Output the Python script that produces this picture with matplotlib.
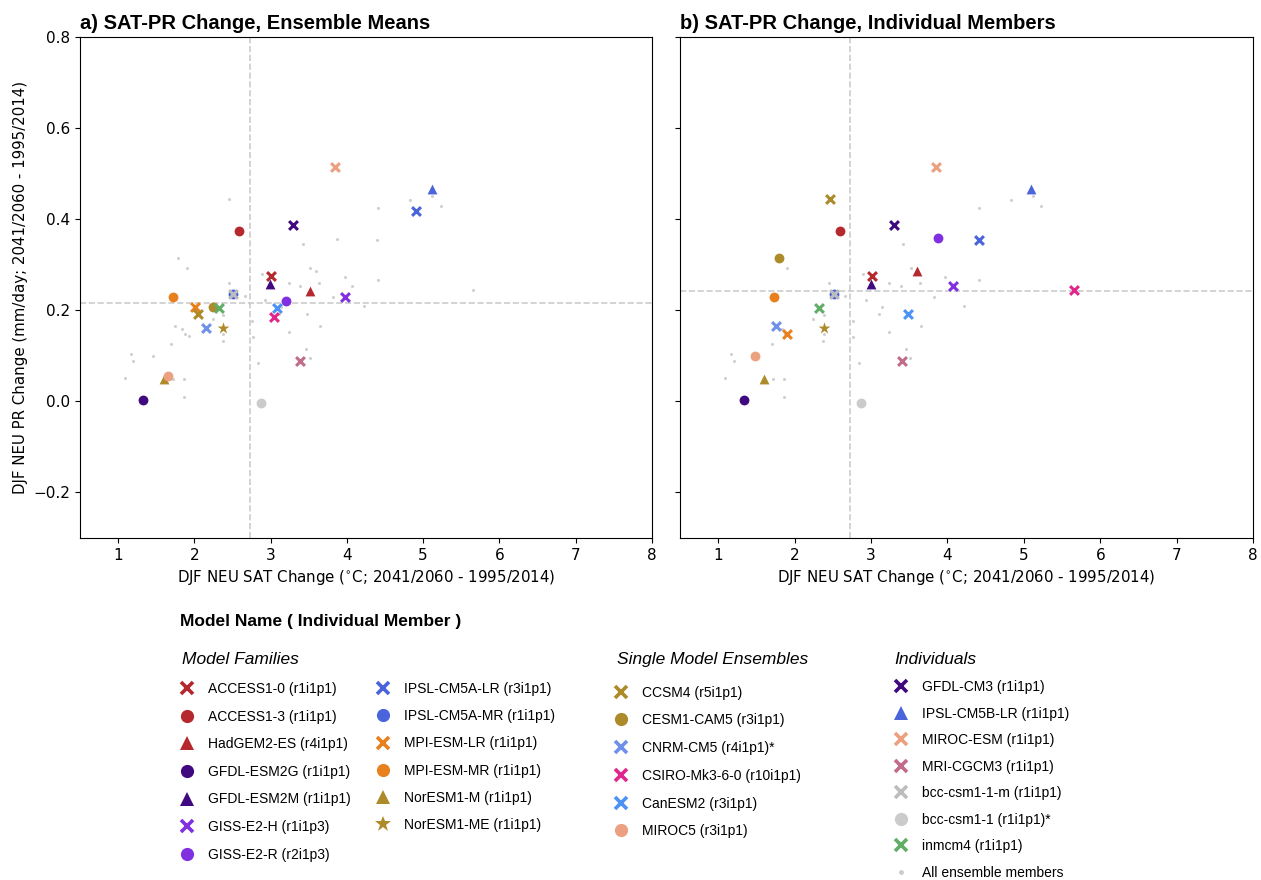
import matplotlib
matplotlib.use("Agg")
import matplotlib.pyplot as plt
from matplotlib.lines import Line2D

# model names and members, in legend order
models = ["ACCESS1-0", "ACCESS1-3", "HadGEM2-ES", "GFDL-ESM2G", "GFDL-ESM2M",
          "GISS-E2-H", "GISS-E2-R", "IPSL-CM5A-LR", "IPSL-CM5A-MR", "MPI-ESM-LR",
          "MPI-ESM-MR", "NorESM1-M", "NorESM1-ME", "CCSM4", "CESM1-CAM5",
          "CNRM-CM5", "CSIRO-Mk3-6-0", "CanESM2", "MIROC5", "GFDL-CM3",
          "IPSL-CM5B-LR", "MIROC-ESM", "MRI-CGCM3", "bcc-csm1-1-m", "bcc-csm1-1",
          "inmcm4"]
members = ["r1i1p1", "r1i1p1", "r4i1p1", "r1i1p1", "r1i1p1",
           "r1i1p3", "r2i1p3", "r3i1p1", "r1i1p1", "r1i1p1",
           "r1i1p1", "r1i1p1", "r1i1p1", "r5i1p1", "r3i1p1",
           "r4i1p1)*", "r10i1p1", "r3i1p1", "r3i1p1", "r1i1p1",
           "r1i1p1", "r1i1p1", "r1i1p1", "r1i1p1", "r1i1p1)*",
           "r1i1p1"]

# panel a: ensemble means
sat_a = [3.00, 2.59, 3.51, 1.33, 2.99, 3.97, 3.20, 4.90, 2.51, 2.01,
         1.72, 1.60, 2.38, 2.05, 2.25, 2.15, 3.04, 3.08, 1.65, 3.29,
         5.11, 3.85, 3.39, 2.51, 2.87, 2.32]
pr_a = [0.275, 0.375, 0.242, 0.002, 0.257, 0.230, 0.221, 0.419, 0.236, 0.207,
        0.230, 0.049, 0.162, 0.191, 0.208, 0.162, 0.186, 0.206, 0.055, 0.388,
        0.467, 0.515, 0.088, 0.236, -0.003, 0.204]

# panel b: individual members
sat_b = [3.01, 2.59, 3.60, 1.34, 3.00, 4.07, 3.87, 4.41, 2.52, 1.90,
         1.73, 1.60, 2.39, 2.46, 1.80, 1.76, 5.66, 3.48, 1.48, 3.30,
         5.10, 3.85, 3.40, 2.52, 2.87, 2.32]
pr_b = [0.275, 0.375, 0.286, 0.002, 0.257, 0.253, 0.358, 0.355, 0.236, 0.147,
        0.230, 0.049, 0.162, 0.445, 0.314, 0.166, 0.245, 0.193, 0.099, 0.388,
        0.467, 0.515, 0.088, 0.236, -0.003, 0.204]

# all ensemble members (grey dots)
all_sat = [2.45, 1.79, 1.90, 2.89, 2.45, 2.66, 2.93, 3.24, 3.39, 3.42, 3.52, 3.60,
           3.64, 3.87, 3.97, 4.07, 3.82, 4.22, 4.40, 4.41, 4.41, 3.14, 3.11, 3.48,
           3.65, 3.24, 2.76, 2.77, 2.84, 3.46, 3.51, 2.24, 2.38, 2.38, 2.37, 1.74,
           1.84, 1.88, 1.93, 1.70, 1.46, 1.17, 1.20, 1.09, 1.72, 1.86, 1.86, 4.83,
           5.12, 5.23, 5.65, 2.52]
all_pr = [0.445, 0.314, 0.294, 0.280, 0.259, 0.231, 0.223, 0.259, 0.253, 0.346, 0.294, 0.286,
          0.260, 0.357, 0.273, 0.253, 0.230, 0.209, 0.355, 0.425, 0.267, 0.207, 0.193, 0.193,
          0.166, 0.152, 0.177, 0.141, 0.084, 0.116, 0.095, 0.180, 0.190, 0.148, 0.133, 0.166,
          0.159, 0.147, 0.144, 0.126, 0.099, 0.105, 0.088, 0.051, 0.049, 0.049, 0.010, 0.443,
          0.451, 0.430, 0.245, 0.236]

# reference lines
sat_ref = 2.73
pr_ref_a = 0.215
pr_ref_b = 0.242

red = "#b5282e"
indigo = "#40097f"
violet = "#8030e0"
royal = "#4a64dc"
orange = "#e8801e"
gold = "#ad8a2a"
colors = [red, red, red, indigo, indigo, violet, violet, royal, royal, orange,
          orange, gold, gold, gold, gold, "#7090ea", "#e0268c", "#4d92f5", "#eba080", indigo,
          royal, "#eba080", "#c26c8c", "#bdbdbd", "#cbcbcb", "#62ad68"]
markers = ["x", "o", "^", "o", "^", "x", "o", "x", "o", "x",
           "o", "^", "*", "x", "o", "x", "x", "x", "o", "x",
           "^", "x", "x", "x", "o", "x"]
sizes = {"x": 40, "o": 50, "^": 50, "*": 80}

fig = plt.figure(figsize=(12.61, 8.80), dpi=100)
ax_a = fig.add_axes([0.0634, 0.3886, 0.4536, 0.5693])
ax_b = fig.add_axes([0.5393, 0.3886, 0.4544, 0.5693], sharey=ax_a)

panels = [(ax_a, sat_a, pr_a, pr_ref_a, "a) SAT-PR Change, Ensemble Means"),
          (ax_b, sat_b, pr_b, pr_ref_b, "b) SAT-PR Change, Individual Members")]
for ax, xs, ys, yref, title in panels:
    ax.axvline(sat_ref, color="#cccccc", ls="--", lw=1.2, zorder=1)
    ax.axhline(yref, color="#cccccc", ls="--", lw=1.2, zorder=1)
    ax.scatter(all_sat, all_pr, s=5, color="#d0d0d0", zorder=2, linewidths=0)
    order = [i for i in range(len(models)) if models[i] != "bcc-csm1-1-m"] + [models.index("bcc-csm1-1-m")]
    for i in order:
        m = markers[i]
        if m == "x":
            ax.scatter(xs[i], ys[i], marker=m, s=sizes[m], color=colors[i], linewidths=2.2, zorder=3)
        else:
            ax.scatter(xs[i], ys[i], marker=m, s=sizes[m], color=colors[i], linewidths=0, zorder=3)
    ax.set_xlim(0.5, 8)
    ax.set_ylim(-0.3, 0.8)
    ax.set_xticks(range(1, 9))
    ax.tick_params(labelsize=11)
    ax.set_xlabel("DJF NEU SAT Change ($^{\\circ}$C; 2041/2060 - 1995/2014)", fontsize=10.8)
    ax.set_title(title, loc="left", fontsize=14.5, fontweight="bold", family="Liberation Sans")
ax_a.set_ylabel("DJF NEU PR Change (mm/day; 2041/2060 - 1995/2014)", fontsize=10.8)
ax_b.tick_params(labelleft=False)


def handle(i):
    m = markers[i]
    if m == "x":
        return Line2D([], [], marker=m, ls="none", ms=8.5, mew=2.6, color=colors[i])
    ms = 9.5 if m == "o" else (10 if m == "^" else 12)
    return Line2D([], [], marker=m, ls="none", ms=ms, mew=0, color=colors[i])


def labels(idx):
    return ["%s (%s" % (models[i], members[i]) + ("" if members[i].endswith("*") else ")") for i in idx]


leg_font = {"family": "Liberation Sans", "size": 10}


def add_legend(idx, x, y, spacing, extra=None):
    hs = [handle(i) for i in idx]
    ls = labels(idx)
    if extra is not None:
        hs.append(extra[0])
        ls.append(extra[1])
    leg = fig.legend(hs, ls, loc="upper left", bbox_to_anchor=(x, y), frameon=False,
                     borderpad=0, borderaxespad=0, handlelength=1.0, handletextpad=1.0,
                     labelspacing=spacing, prop=leg_font)
    return leg


add_legend(range(0, 7), 0.1430, 0.2250, 0.98)
add_legend(range(7, 13), 0.2985, 0.2250, 0.95)
add_legend(range(13, 19), 0.4872, 0.2210, 0.99)
all_handle = Line2D([], [], marker="o", ls="none", ms=3.5, mew=0, color="#cccccc")
add_legend(range(19, 26), 0.7093, 0.2270, 0.90, extra=(all_handle, "All ensemble members"))

fig.text(180 / 1261, 1 - 621 / 880, "Model Name ( Individual Member )", fontsize=12.5,
         fontweight="bold", family="Liberation Sans", va="center", ha="left")
fig.text(182 / 1261, 1 - 659 / 880, "Model Families", fontsize=12.5, style="italic",
         family="Liberation Sans", va="center", ha="left")
fig.text(617 / 1261, 1 - 659 / 880, "Single Model Ensembles", fontsize=12.5, style="italic",
         family="Liberation Sans", va="center", ha="left")
fig.text(894 / 1261, 1 - 659 / 880, "Individuals", fontsize=12.5, style="italic",
         family="Liberation Sans", va="center", ha="left")

fig.savefig("out.png", dpi=100)
